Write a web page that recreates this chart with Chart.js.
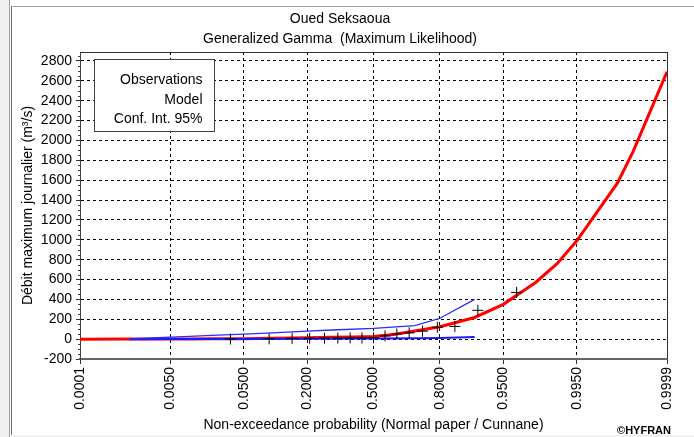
<!DOCTYPE html>
<html>
<head>
<meta charset="utf-8">
<title>Oued Seksaoua</title>
<script src="https://cdn.jsdelivr.net/npm/chart.js@4.4.1/dist/chart.umd.min.js"></script>
<style>
  html, body { margin: 0; padding: 0; background: #fff; }
  #frame { position: relative; width: 694px; height: 437px; overflow: hidden; background: #fff; }
  #edge { position: absolute; left: 0; top: 0; width: 9px; height: 437px; background: #f0f0f0; border-right: 1px solid #a0a0a0; }
  #edge2 { position: absolute; left: 11px; top: 6px; width: 1px; height: 431px; background: #6d6d6d; }
  #topline { position: absolute; left: 11px; top: 6px; right: 0; height: 1px; background: #a0a0a0; }
  #bottomline { position: absolute; left: 11px; bottom: 0; right: 0; height: 2px; background: #f0f0f0; }
  canvas { position: absolute; left: 0; top: 0; }
</style>
</head>
<body>
<div id="frame">
  <div id="edge"></div><div id="edge2"></div><div id="topline"></div><div id="bottomline"></div>
  <canvas id="c" width="694" height="437"></canvas>
</div>
<script>
// ---- text ----
const titleLines = ['Oued Seksaoua', 'Generalized Gamma  (Maximum Likelihood)'];
const xTitle = 'Non-exceedance probability (Normal paper / Cunnane)';
const yTitle = 'Débit maximum journalier (m³/s)';
const legendLines = ['Observations', 'Model', 'Conf. Int. 95%'];
const creditText = '©HYFRAN';

// ---- axis ticks (non-exceedance probabilities) ----
const tickProbs = [0.0001, 0.005, 0.05, 0.2, 0.5, 0.8, 0.95, 0.995, 0.9999];

// ---- observed annual maxima (Cunnane plotting positions) ----
const obsProb = [0.0349, 0.0930, 0.1512, 0.2093, 0.2674, 0.3256, 0.3837, 0.4419, 0.5000,
                 0.5581, 0.6163, 0.6744, 0.7326, 0.7907, 0.8488, 0.9070, 0.9651];
const obsFlow = [1, 3, 8, 9, 10, 11, 12, 12, 14, 33, 52, 63, 80, 120, 128, 290, 470];

// ---- fitted Generalized Gamma quantiles ----
const modelProb = [0.0001, 0.001, 0.005, 0.01, 0.02, 0.05, 0.1, 0.2, 0.3, 0.4, 0.5, 0.6,
                   0.7, 0.8, 0.9, 0.95, 0.98, 0.99, 0.995, 0.998, 0.999, 0.9995, 0.9999];
const modelFlow = [0, 0.3, 1, 2, 3, 4, 9, 14, 18, 22, 27, 47,
                   82, 125, 218, 350, 570, 760, 990, 1330, 1570, 1890, 2690];

// ---- 95% confidence interval ----
const ciProb  = [0.001, 0.005, 0.01, 0.02, 0.05, 0.1, 0.2, 0.3, 0.5, 0.7, 0.8, 0.9];
const ciUpper = [2, 20, 28, 38, 50, 63, 80, 92, 108, 135, 210, 400];
const ciLower = [0, 1, 1, 1, 2, 2, 3, 4, 6, 9, 12, 22];

// Inverse of the standard normal CDF (Acklam's rational approximation)
function probit(p) {
  const a = [-3.969683028665376e+01, 2.209460984245205e+02, -2.759285104469687e+02,
             1.383577518672690e+02, -3.066479806614716e+01, 2.506628277459239e+00];
  const b = [-5.447609879822406e+01, 1.615858368580409e+02, -1.556989798598866e+02,
             6.680131188771972e+01, -1.328068155288572e+01];
  const c = [-7.784894002430293e-03, -3.223964580411365e-01, -2.400758277161838e+00,
             -2.549671010243868e+00, 4.374664141464968e+00, 2.938163982698783e+00];
  const d = [7.784695709041462e-03, 3.224671290700398e-01, 2.445134137142996e+00,
             3.754408661907416e+00];
  const pl = 0.02425, ph = 1 - pl;
  let q, r;
  if (p < pl) {
    q = Math.sqrt(-2 * Math.log(p));
    return (((((c[0]*q + c[1])*q + c[2])*q + c[3])*q + c[4])*q + c[5]) /
           ((((d[0]*q + d[1])*q + d[2])*q + d[3])*q + 1);
  }
  if (p <= ph) {
    q = p - 0.5; r = q * q;
    return (((((a[0]*r + a[1])*r + a[2])*r + a[3])*r + a[4])*r + a[5]) * q /
           (((((b[0]*r + b[1])*r + b[2])*r + b[3])*r + b[4])*r + 1);
  }
  q = Math.sqrt(-2 * Math.log(1 - p));
  return -(((((c[0]*q + c[1])*q + c[2])*q + c[3])*q + c[4])*q + c[5]) /
          ((((d[0]*q + d[1])*q + d[2])*q + d[3])*q + 1);
}

// Normal probability paper: a linear scale in the standard normal variate
class ProbitScale extends Chart.LinearScale {
  determineDataLimits() {
    this.min = probit(this.options.min);
    this.max = probit(this.options.max);
  }
  buildTicks() {
    return (this.options.probTicks || []).map(p => ({ value: p }));
  }
  getPixelForValue(value) {
    if (value === null || value === undefined) return NaN;
    return super.getPixelForValue(probit(value));
  }
}
ProbitScale.id = 'probit';
ProbitScale.defaults = {};
Chart.register(ProbitScale);

const FONT = "'Liberation Sans', Arial, sans-serif";
Chart.defaults.font.family = FONT;
Chart.defaults.font.size = 14;
Chart.defaults.color = '#000';

const pairs = (xs, ys) => xs.map((x, i) => ({ x: x, y: ys[i] }));

// Solid frame on the top and right of the plot, plus minor ticks on the flow axis
const framePlugin = {
  id: 'frame',
  beforeDatasetsDraw(chart) {
    const { ctx, chartArea: a } = chart;
    const ys = chart.scales.y;
    ctx.save();
    ctx.strokeStyle = '#303030';
    ctx.lineWidth = 1;
    ctx.beginPath();
    ctx.moveTo(Math.round(a.left) + 0.5, Math.round(a.top) + 0.5);
    ctx.lineTo(Math.round(a.right) + 0.5, Math.round(a.top) + 0.5);
    ctx.lineTo(Math.round(a.right) + 0.5, Math.round(a.bottom));
    ctx.stroke();
    ctx.strokeStyle = '#404040';
    ctx.beginPath();
    for (let v = ys.min; v <= ys.max; v += 50) {
      if (Math.round(v) % 200 === 0) continue;
      const y = Math.round(ys.getPixelForValue(v)) + 0.5;
      ctx.moveTo(a.left - 2, y);
      ctx.lineTo(a.left, y);
    }
    ctx.stroke();
    ctx.restore();
  }
};

// Text-only legend box in the upper-left corner of the plot, and the credit line
const legendBoxPlugin = {
  id: 'legendBox',
  afterDatasetsDraw(chart) {
    const { ctx, chartArea: a } = chart;
    const x0 = Math.round(a.left) + 14.5, y0 = Math.round(a.top) + 7.5;
    const w = 120, h = 72;
    ctx.save();
    ctx.fillStyle = '#fff';
    ctx.fillRect(x0, y0, w, h);
    ctx.strokeStyle = '#404040';
    ctx.lineWidth = 1;
    ctx.strokeRect(x0, y0, w, h);
    ctx.fillStyle = '#000';
    ctx.font = '14px ' + FONT;
    ctx.textAlign = 'right';
    ctx.textBaseline = 'middle';
    legendLines.forEach((t, i) => ctx.fillText(t, x0 + w - 12, y0 + 21 + i * 19.5));
    ctx.restore();
  },
  afterDraw(chart) {
    const { ctx } = chart;
    ctx.save();
    ctx.fillStyle = '#000';
    ctx.font = 'bold 11px ' + FONT;
    ctx.textAlign = 'right';
    ctx.textBaseline = 'alphabetic';
    ctx.fillText(creditText, 671, 434);
    ctx.restore();
  }
};

new Chart(document.getElementById('c'), {
  type: 'line',
  data: {
    datasets: [
      {
        label: legendLines[0],
        data: pairs(obsProb, obsFlow),
        showLine: false,
        pointStyle: 'cross',
        pointRadius: 5.5,
        pointBorderWidth: 1,
        borderColor: '#000',
        order: 0
      },
      {
        label: legendLines[2] + ' (upper)',
        data: pairs(ciProb, ciUpper),
        borderColor: '#2a2aff',
        borderWidth: 1.3,
        pointRadius: 0,
        order: 1
      },
      {
        label: legendLines[2] + ' (lower)',
        data: pairs(ciProb, ciLower),
        borderColor: '#1a1aff',
        borderWidth: 2,
        pointRadius: 0,
        order: 1
      },
      {
        label: legendLines[1],
        data: pairs(modelProb, modelFlow),
        borderColor: '#ff0000',
        borderWidth: 3,
        pointRadius: 0,
        order: 2
      }
    ]
  },
  options: {
    responsive: false,
    animation: false,
    events: [],
    layout: { padding: { left: 0, right: 14, top: 0, bottom: 0 } },
    elements: { line: { tension: 0 } },
    plugins: {
      legend: { display: false },
      tooltip: { enabled: false },
      title: {
        display: true,
        text: titleLines,
        color: '#000',
        font: { size: 14, weight: 'normal', lineHeight: 20 / 14 },
        padding: { top: 9, bottom: 3 }
      }
    },
    scales: {
      x: {
        type: 'probit',
        min: tickProbs[0],
        max: tickProbs[tickProbs.length - 1],
        probTicks: tickProbs,
        grid: { color: '#000', lineWidth: 1, tickLength: 5, tickColor: '#303030' },
        border: { display: true, color: '#666', width: 2, dash: [3, 3] },
        ticks: {
          autoSkip: false, minRotation: 90, maxRotation: 90, padding: 3, color: '#000',
          callback: v => v.toFixed(4)
        },
        title: { display: true, text: xTitle, color: '#000', padding: { top: 0, bottom: 3 } },
        afterFit: s => { s.height = 78; s.paddingLeft = 0; s.paddingRight = 27; }
      },
      y: {
        min: -200,
        max: 2890,
        ticks: { stepSize: 200, includeBounds: false, padding: 4, color: '#000', callback: v => String(v) },
        grid: { color: '#000', lineWidth: 1, tickLength: 4, tickColor: '#303030' },
        border: { display: true, color: '#404040', width: 1, dash: [3, 3] },
        title: { display: true, text: yTitle, color: '#000', padding: { top: 20, bottom: 0 } },
        afterFit: s => { s.width = 80; s.paddingTop = 0; s.paddingBottom = 0; }
      }
    }
  },
  plugins: [framePlugin, legendBoxPlugin]
});
</script>
</body>
</html>
